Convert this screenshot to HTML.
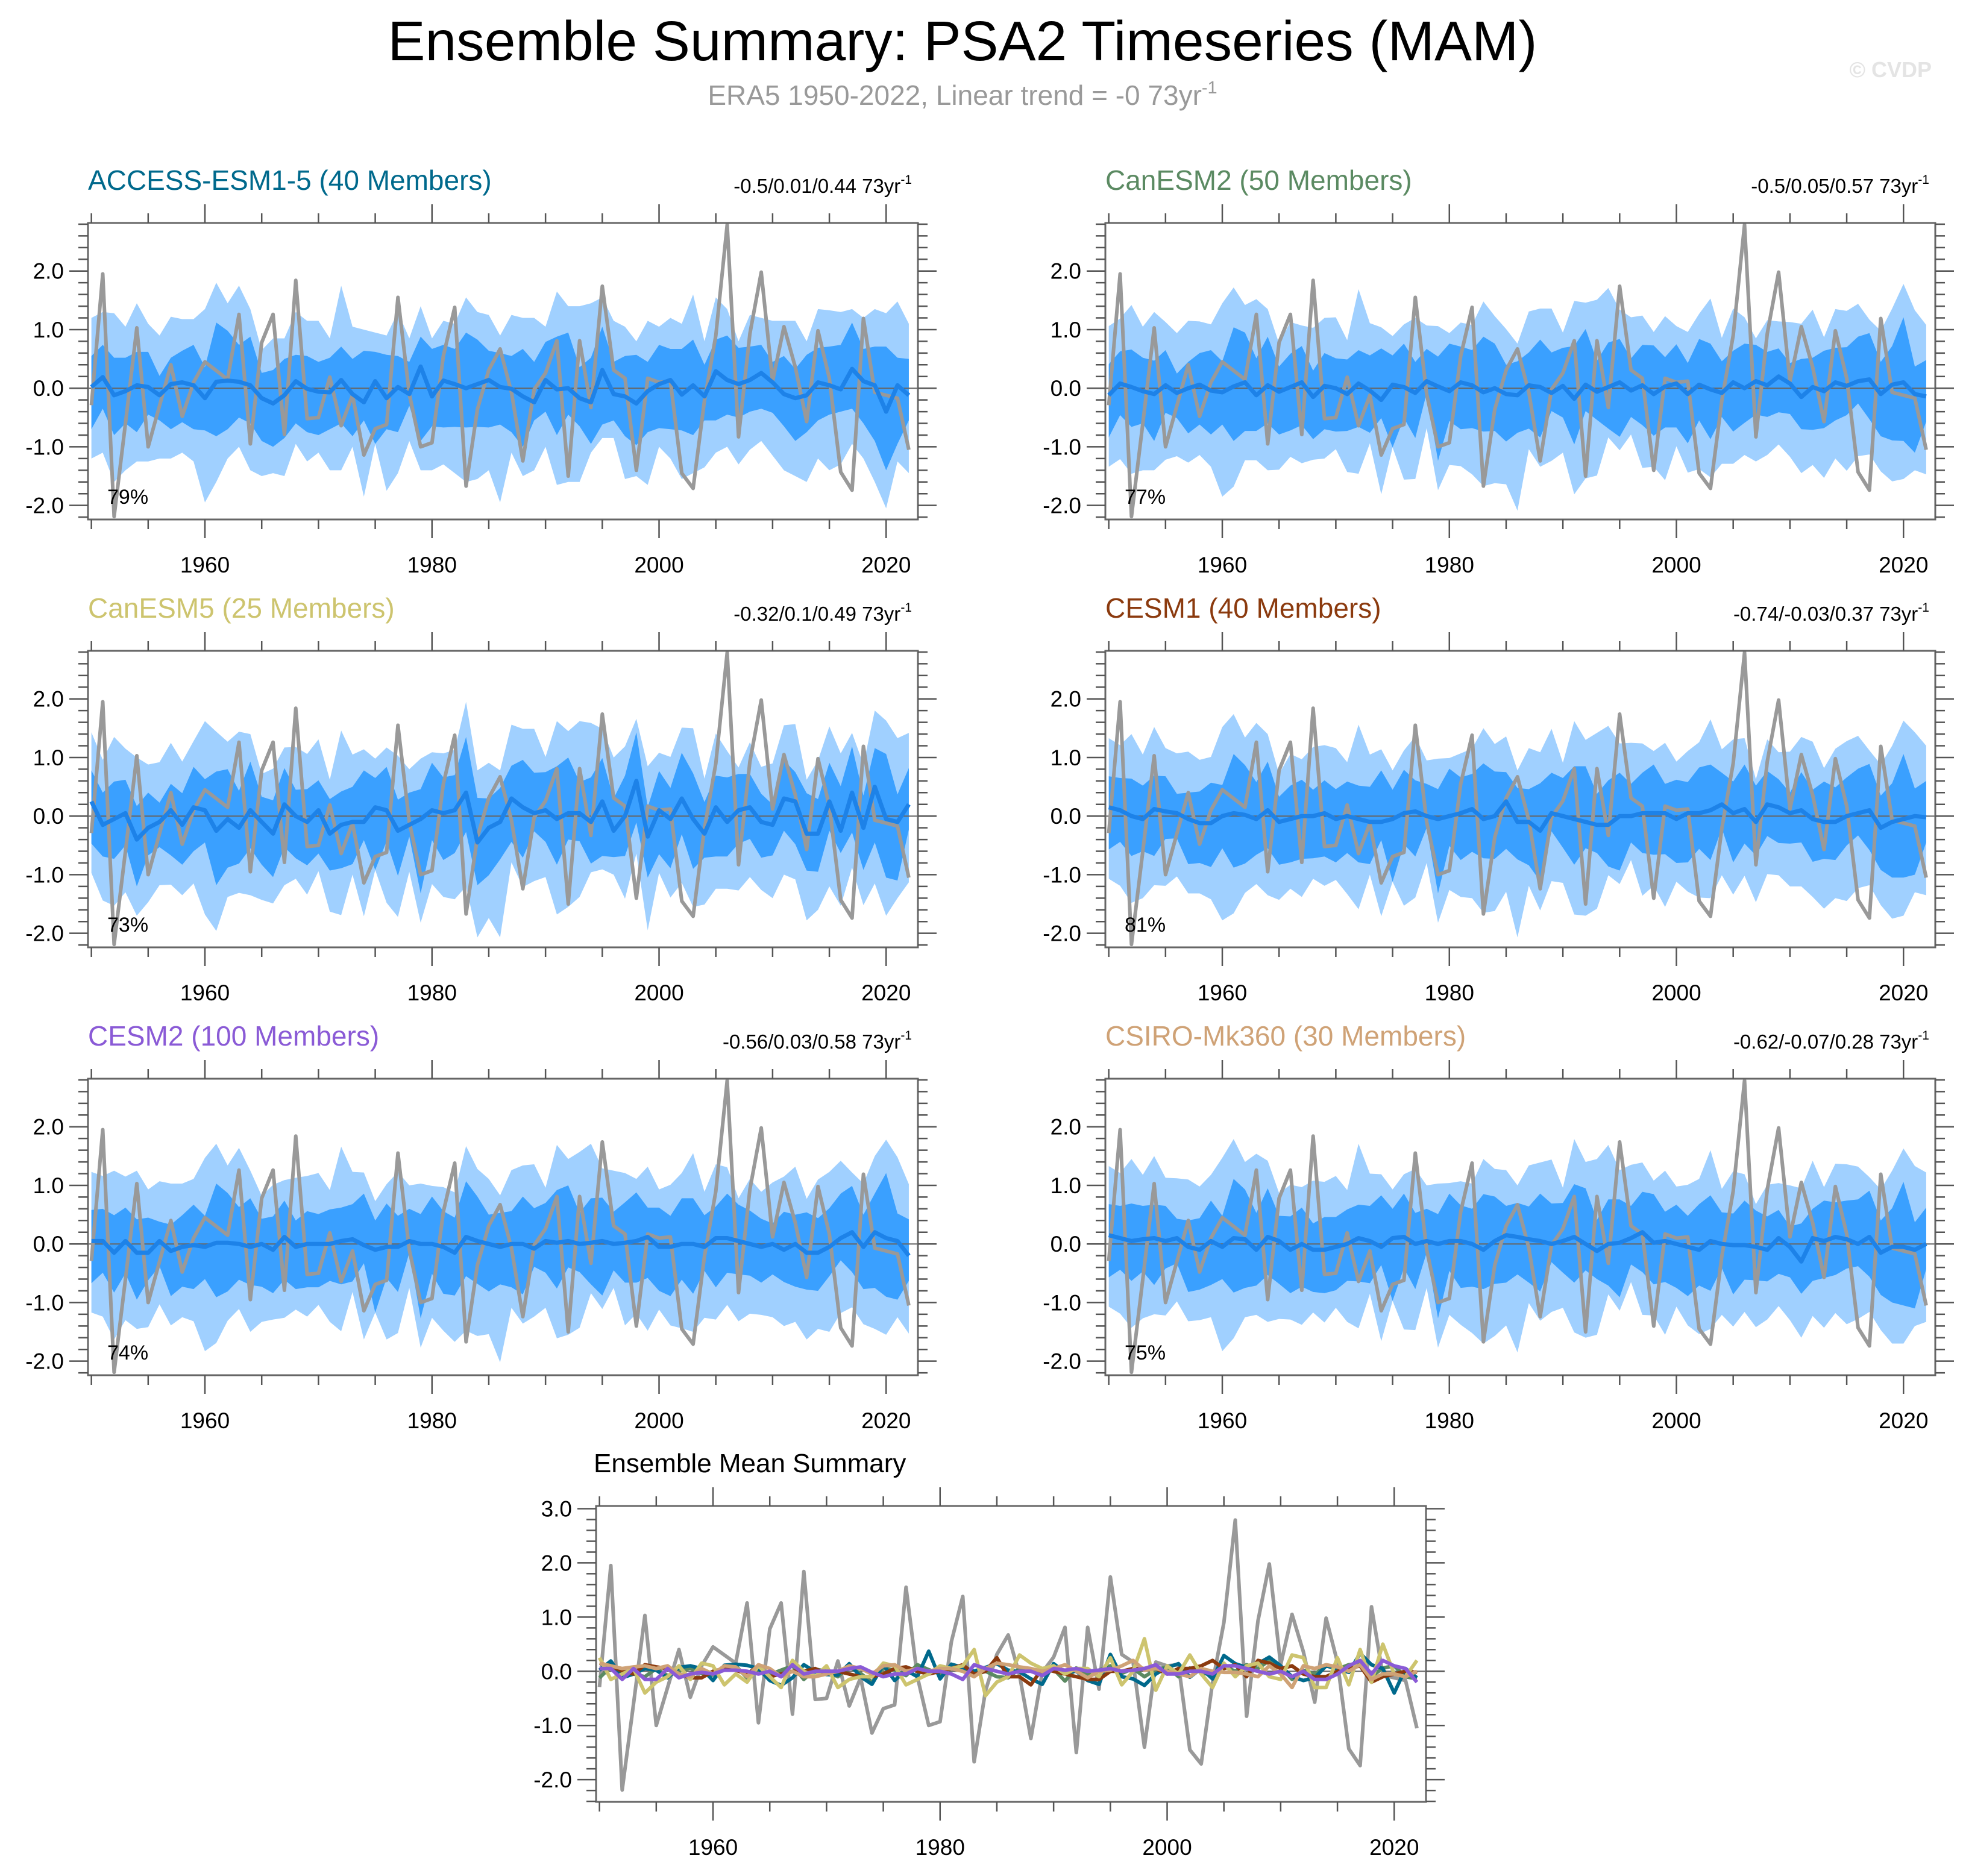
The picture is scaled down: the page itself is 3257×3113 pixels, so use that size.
<!DOCTYPE html>
<html><head><meta charset="utf-8">
<style>
html,body{margin:0;padding:0;background:#fff;}
svg{display:block;font-family:"Liberation Sans",Arial,sans-serif;}
</style></head>
<body>
<svg id="chart" xmlns="http://www.w3.org/2000/svg" width="3257" height="3113" viewBox="0 0 3257 3113">
<rect width="3257" height="3113" fill="#fff"/>
<text x="1597" y="100" font-size="93" text-anchor="middle" fill="#000">Ensemble Summary: PSA2 Timeseries (MAM)</text>
<text x="1597" y="174" font-size="46" text-anchor="middle" fill="#999">ERA5 1950-2022, Linear trend = -0 73yr<tspan font-size="29" dy="-19">-1</tspan></text>
<text x="3205" y="128" font-size="36" font-weight="bold" text-anchor="end" fill="#e4e4e4">© CVDP</text>
<g id="plots"></g>
</svg>
<script>
const obs = [-0.29,1.95,-2.19,-0.6,1.03,-1.0,-0.3,0.40,-0.48,0.1,0.45,0.3,0.15,1.26,-0.95,0.78,1.26,-0.79,1.84,-0.52,-0.5,0.19,-0.64,-0.12,-1.14,-0.69,-0.62,1.55,-0.1,-1.0,-0.93,0.55,1.38,-1.67,-0.36,0.31,0.67,-0.07,-1.24,-0.02,0.26,0.81,-1.5,0.81,-0.33,1.74,0.31,0.17,-1.4,0.17,0.1,0.12,-1.45,-1.71,-0.21,0.9,2.79,-0.83,0.93,1.98,0.12,1.05,0.36,-0.57,0.98,0.17,-1.43,-1.74,1.19,-0.07,-0.12,-0.17,-1.05];
const meanAccess = [0.02,0.19,-0.12,-0.05,0.05,0.02,-0.12,0.07,0.1,0.05,-0.17,0.11,0.13,0.11,0.05,-0.17,-0.26,-0.12,0.12,-0.01,-0.06,-0.07,0.14,-0.1,-0.24,0.12,-0.17,0.02,-0.1,0.37,-0.14,0.13,0.07,0,0.07,0.14,0.02,-0.01,-0.14,-0.24,0.14,-0.02,0,-0.17,-0.24,0.31,-0.1,-0.14,-0.26,-0.05,0.07,0.14,-0.11,0.05,-0.14,0.29,0.14,0.07,0.14,0.26,0.1,-0.1,-0.17,-0.12,0.1,0.05,-0.02,0.33,0.12,0.05,-0.4,0.05,-0.12];
const meanCanESM2 = [-0.12,0.08,0.02,-0.05,-0.1,0.05,-0.08,0.0,0.06,-0.04,-0.07,0.03,0.1,-0.12,0.05,-0.06,0.02,0.1,-0.15,0.04,0.0,-0.1,0.08,-0.04,-0.2,0.06,0.02,-0.08,0.12,0.03,-0.05,0.1,0.05,-0.07,0.0,-0.1,-0.12,0.05,0.02,-0.08,0.04,-0.18,0.06,-0.06,0.02,0.1,-0.04,0.05,-0.1,0.03,0.08,-0.1,0.06,-0.02,-0.08,0.1,0.0,0.12,0.05,0.2,0.08,-0.15,0.02,-0.05,0.1,0.04,0.12,0.15,-0.1,0.06,0.1,-0.1,-0.14];
const meanCanESM5 = [0.25,-0.15,-0.05,0.05,-0.4,-0.2,-0.1,0.1,-0.15,0.15,0.1,-0.25,-0.05,-0.2,0.1,-0.1,-0.3,0.2,0.0,-0.1,0.1,-0.3,-0.15,-0.1,-0.1,0.15,0.1,-0.25,-0.15,-0.05,0.1,0.05,0.1,0.4,-0.45,-0.2,-0.1,0.3,0.15,0.05,0.1,-0.05,0.05,0.05,-0.1,0.25,-0.25,0.0,0.6,-0.35,0.1,-0.05,0.3,-0.05,-0.3,0.15,-0.1,0.1,0.15,-0.1,-0.15,0.3,0.25,-0.3,-0.3,0.25,-0.25,0.4,-0.2,0.5,-0.05,-0.1,0.2];
const meanCESM1 = [0.15,0.1,0.0,-0.05,0.12,0.08,0.05,-0.05,-0.12,-0.12,0.0,0.05,0.02,-0.05,0.1,-0.1,-0.05,0.0,0.0,0.05,-0.05,0.0,-0.05,-0.1,-0.1,-0.05,0.05,0.08,0.0,-0.05,0.0,0.05,0.12,-0.05,0.0,0.25,-0.1,-0.1,-0.25,0.05,0.0,-0.05,-0.1,-0.15,-0.15,0.0,0.0,0.05,0.05,0.05,-0.05,0.05,0.05,0.1,0.2,0.05,0.12,-0.1,0.2,0.15,0.05,0.1,-0.05,-0.1,-0.1,0.0,0.05,0.1,-0.2,-0.1,-0.05,0.0,-0.02];
const meanCESM2 = [0.05,0.05,-0.15,0.05,-0.15,-0.15,0.05,-0.12,-0.05,-0.02,-0.05,0.02,0.02,0.0,-0.05,0.0,-0.1,0.12,-0.05,0.0,0.0,0.0,0.05,0.08,-0.02,-0.1,-0.05,-0.05,0.05,0.0,0.0,-0.05,-0.15,0.12,0.05,0.0,-0.05,0.0,0.0,-0.08,0.05,0.02,0.05,0.0,0.02,0.05,0.0,0.02,0.05,0.12,-0.05,-0.05,0.0,0.0,-0.05,0.1,0.1,0.05,0.0,-0.05,0.0,-0.1,0.0,-0.15,-0.15,-0.05,0.1,0.2,-0.05,0.2,0.1,0.05,-0.2];
const meanCSIRO = [0.15,0.1,0.05,0.08,0.1,0.05,0.1,-0.05,-0.1,0.05,-0.05,0.1,0.08,-0.1,0.12,0.05,-0.1,0.0,-0.1,-0.1,-0.05,0.0,0.1,0.05,-0.05,0.1,0.12,0.0,0.05,0.0,0.05,0.05,0.0,-0.1,0.05,0.15,0.12,0.08,0.05,0.0,0.05,0.12,0.0,-0.12,0.0,0.02,0.1,0.2,0.02,0.05,0.0,-0.05,-0.1,0.05,0.0,-0.02,-0.02,-0.05,-0.1,0.1,-0.05,-0.3,0.1,0.05,0.12,0.08,0.0,0.12,-0.15,-0.05,-0.05,-0.1,0.0];
const darkUp = [0.55,0.74,0.52,0.52,0.62,0.62,0.21,0.52,0.64,0.74,0.36,1.12,0.98,0.74,0.88,0.26,0.31,0.50,0.57,0.55,0.45,0.52,0.71,0.50,0.64,0.62,0.57,0.55,0.45,0.88,0.67,0.74,0.67,0.95,0.83,0.64,0.60,0.55,0.67,0.45,0.79,0.88,0.95,0.36,0.52,1.05,0.45,0.55,0.57,0.45,0.74,0.67,0.67,0.83,0.40,0.83,0.90,0.69,0.71,0.74,0.45,0.55,0.33,0.57,0.69,0.71,0.74,1.12,0.67,0.71,0.71,0.52,0.50];
const darkLo = [-0.7,-0.35,-0.8,-0.6,-0.75,-0.45,-0.55,-0.7,-0.58,-0.7,-0.72,-0.82,-0.7,-0.5,-0.6,-0.9,-1.0,-0.85,-0.6,-0.75,-0.8,-0.7,-0.6,-0.82,-0.55,-0.95,-0.7,-0.75,-0.3,-0.9,-0.65,-0.67,-0.66,-0.67,-0.66,-0.67,-0.62,-0.75,-1.0,-0.55,-0.4,-0.8,-0.45,-0.65,-0.95,-0.62,-0.55,-0.82,-0.97,-0.75,-0.68,-0.7,-0.72,-0.8,-0.55,-0.55,-0.45,-0.5,-0.4,-0.35,-0.42,-0.65,-0.9,-0.75,-0.55,-0.45,-0.4,-0.35,-0.6,-0.9,-1.4,-0.95,-0.55];
const lightUp = [1.2,1.3,1.28,1.05,1.45,1.1,0.9,1.22,1.18,1.18,1.35,1.8,1.45,1.75,1.35,0.65,0.85,0.85,1.3,1.15,1.15,0.85,1.75,1.05,1.0,0.95,0.9,1.3,0.85,1.4,0.85,1.15,1.1,1.55,1.3,1.25,0.9,1.25,1.2,1.2,1.05,1.65,1.4,1.4,1.45,1.55,1.15,1.05,0.8,1.15,1.05,1.2,1.1,1.6,0.8,1.55,1.35,0.8,1.25,1.2,1.15,1.15,1.15,0.8,1.35,1.33,1.3,1.35,1.2,1.35,1.28,1.48,1.1];
const lightLo = [-1.2,-1.1,-1.6,-1.4,-1.25,-1.25,-1.2,-1.2,-1.1,-1.25,-1.95,-1.6,-1.2,-1.0,-1.4,-1.5,-1.45,-1.5,-0.95,-1.25,-1.1,-1.4,-1.4,-1.0,-1.85,-0.95,-1.75,-1.45,-0.9,-1.4,-1.4,-1.3,-1.45,-1.6,-1.55,-1.4,-1.95,-1.1,-1.5,-1.4,-1.0,-1.65,-1.6,-1.6,-1.1,-0.85,-0.85,-1.55,-1.5,-1.65,-1.0,-1.2,-1.55,-1.45,-1.35,-1.1,-1.0,-1.3,-1.05,-0.9,-1.15,-1.4,-1.5,-1.6,-1.2,-1.4,-1.3,-0.95,-1.2,-1.6,-2.05,-1.25,-1.45];
const panelNames = ["ACCESS-ESM1-5 (40 Members)","CanESM2 (50 Members)","CanESM5 (25 Members)","CESM1 (40 Members)","CESM2 (100 Members)","CSIRO-Mk360 (30 Members)"];
const panelTrends = ["-0.5/0.01/0.44 73yr","-0.5/0.05/0.57 73yr","-0.32/0.1/0.49 73yr","-0.74/-0.03/0.37 73yr","-0.56/0.03/0.58 73yr","-0.62/-0.07/0.28 73yr"];
const panelPct = ["79%","77%","73%","81%","74%","75%"];
const panelColors = ["#00698c","#5b8a62","#cdc46e","#8b3a0e","#8a5ad6","#cfa276"];
const panelMeans = [meanAccess,meanCanESM2,meanCanESM5,meanCESM1,meanCESM2,meanCSIRO];
const yTicksTop = [-2,-1,0,1,2];
const yTicksBottom = [-2,-1,0,1,2,3];
const xTickLabels = [1960,1980,2000,2020];

const NS="http://www.w3.org/2000/svg";
const root=document.getElementById('plots');
const years=[];for(let y=1950;y<=2022;y++)years.push(y);
function mk(tag,attrs,parent){const e=document.createElementNS(NS,tag);for(const k in attrs)e.setAttribute(k,attrs[k]);(parent||root).appendChild(e);return e;}

function axes(L,T,W,H,ymin,ymax){
  const X0=1949.7,X1=2022.8;
  const sx=v=>L+(v-X0)/(X1-X0)*W, sy=v=>T+(ymax-v)/(ymax-ymin)*H;
  return {sx,sy};
}
function frame(g,L,T,W,H,sx,sy,ymin,ymax,yt){
  mk('rect',{x:L,y:T,width:W,height:H,fill:'none',stroke:'#666','stroke-width':3},g);
  let d='';
  for(let yr=1950;yr<=2020;yr+=5){const x=sx(yr);const len=(yr%20===0)?31:16;d+=`M${x},${T+H}v${len}M${x},${T}v${-len}`;}
  for(let v=Math.ceil(ymin*5)/5;v<=ymax+1e-6;v+=0.2){const r=Math.round(v*5)/5;const y=sy(r);const len=(Math.abs(r-Math.round(r))<1e-6)?31:16;d+=`M${L},${y}h${-len}M${L+W},${y}h${len}`;}
  mk('path',{d:d,stroke:'#555','stroke-width':2.5,fill:'none'},g);
  yt.forEach(v=>{const t=mk('text',{x:L-40,y:sy(v)+13,'font-size':37,'text-anchor':'end',fill:'#000'},g);t.textContent=v.toFixed(1);
    
    });
  xTickLabels.forEach(v=>{const t=mk('text',{x:sx(v),y:T+H+88,'font-size':37,'text-anchor':'middle',fill:'#000'},g);t.textContent=v;
    
    });
}
function band(g,up,lo,sx,sy,fill,name){
  let d='M'+years.map((y,i)=>sx(y)+','+sy(up[i])).join('L');
  for(let i=years.length-1;i>=0;i--)d+='L'+sx(years[i])+','+sy(lo[i]);
  const p=mk('path',{d:d+'Z',fill:fill},g);
  
  
}
function line(g,arr,sx,sy,color,w,name){
  const p=mk('path',{d:'M'+years.map((y,i)=>sx(y)+','+sy(arr[i])).join('L'),fill:'none',stroke:color,'stroke-width':w,'stroke-linejoin':'round'},g);
  
  
}

const lefts=[146,1834], tops=[370,1080,1790], W=1377, H=492, YMIN=-2.24, YMAX=2.82;
panelNames.forEach((nm,k)=>{
  const L=lefts[k%2], T=tops[Math.floor(k/2)];
  const g=mk('g',{});
  
  
  const {sx,sy}=axes(L,T,W,H,YMIN,YMAX);
  const m=panelMeans[k];
  band(g,lightUp.map((v,i)=>v+m[i]-meanAccess[i]),lightLo.map((v,i)=>v+m[i]-meanAccess[i]),sx,sy,'#a0d0ff','outer-spread-band');
  band(g,darkUp.map((v,i)=>v+m[i]-meanAccess[i]),darkLo.map((v,i)=>v+m[i]-meanAccess[i]),sx,sy,'#3aa0ff','inner-spread-band');
  mk('line',{x1:L,x2:L+W,y1:sy(0),y2:sy(0),stroke:'#666','stroke-width':2},g);
  line(g,obs,sx,sy,'#999',6,'era5-line');
  line(g,m,sx,sy,'#1d82e8',7,'ensemble-mean-line');
  frame(g,L,T,W,H,sx,sy,YMIN,YMAX,yTicksTop);
  const t=mk('text',{x:L,y:T-55,'font-size':46,fill:panelColors[k]},g);t.textContent=nm;
  
  
  const tr=mk('text',{x:L+W-10,y:T-50,'font-size':33,'text-anchor':'end',fill:'#000'},g);
  tr.innerHTML=panelTrends[k]+'<tspan font-size="21" dy="-15">-1</tspan>';
  
  
  const pc=mk('text',{x:L+32,y:T+H-26,'font-size':34,fill:'#000'},g);pc.textContent=panelPct[k];
  
  
});

// bottom summary
(function(){
  const L=989,T=2499,Wb=1377,Hb=491,ymin=-2.41,ymax=3.05;
  const g=mk('g',{});
  
  
  const {sx,sy}=axes(L,T,Wb,Hb,ymin,ymax);
  mk('line',{x1:L,x2:L+Wb,y1:sy(0),y2:sy(0),stroke:'#666','stroke-width':2},g);
  line(g,obs,sx,sy,'#999',6,'era5-line');
  [1,0,3,2,5,4].forEach(k=>line(g,panelMeans[k],sx,sy,panelColors[k],6,'mean-line-'+k));
  frame(g,L,T,Wb,Hb,sx,sy,ymin,ymax,yTicksBottom);
  const t=mk('text',{x:L-4,y:T-56,'font-size':44,fill:'#000'},g);t.textContent='Ensemble Mean Summary';
  
  
})();
</script>
</body></html>
